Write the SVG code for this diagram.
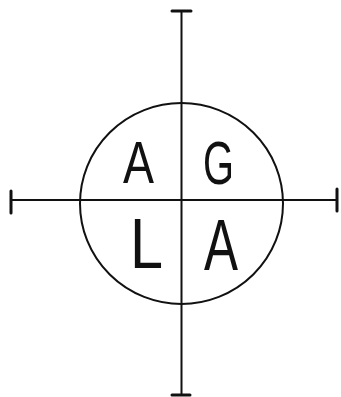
<svg xmlns="http://www.w3.org/2000/svg" width="341" height="397" viewBox="0 0 341 397">
<style>
.ln{stroke:#111;stroke-width:2;fill:none;stroke-linecap:round}
.cap{stroke:#111;stroke-width:3;fill:none;stroke-linecap:round}
.lt{font-family:"Liberation Sans","DejaVu Sans",sans-serif;fill:#111;text-anchor:start}
</style>
<rect width="341" height="397" fill="#fff"/>
<g id="connectors">
<line class="ln" x1="181.5" y1="11" x2="181.5" y2="395"/>
<line class="cap" x1="172" y1="11" x2="191" y2="11"/>
<line class="cap" x1="172" y1="395" x2="190" y2="395"/>
<line class="ln" x1="11" y1="200" x2="337" y2="200"/>
<line class="cap" x1="11" y1="191" x2="11" y2="213"/>
<line class="cap" x1="337" y1="189" x2="337" y2="211"/>
</g>
<g id="circle">
<ellipse class="ln" cx="181.5" cy="203.5" rx="101.5" ry="100.5"/>
</g>
<g id="letter-a1"><text class="lt" x="123" y="183" font-size="60" textLength="31" lengthAdjust="spacingAndGlyphs">A</text></g>
<g id="letter-g"><text class="lt" x="203" y="184" font-size="62" textLength="31" lengthAdjust="spacingAndGlyphs">G</text></g>
<g id="letter-l"><text class="lt" x="130" y="268" font-size="70" textLength="33" lengthAdjust="spacingAndGlyphs">L</text></g>
<g id="letter-a2"><text class="lt" x="204" y="270" font-size="72" textLength="34" lengthAdjust="spacingAndGlyphs">A</text></g>
</svg>
